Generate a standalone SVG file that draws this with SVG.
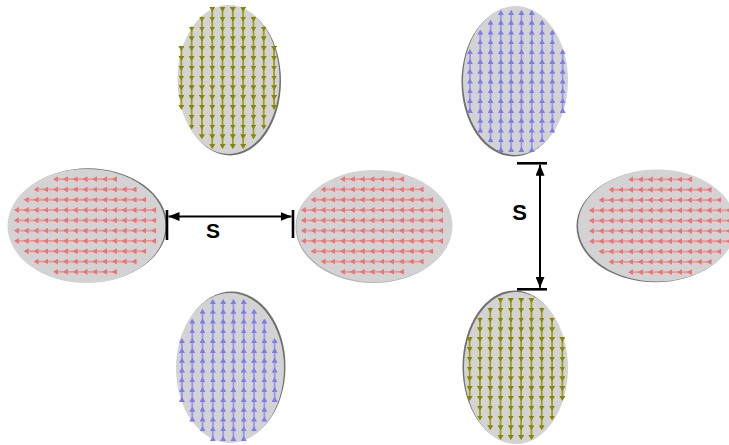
<svg xmlns="http://www.w3.org/2000/svg" xmlns:xlink="http://www.w3.org/1999/xlink" width="729" height="445" viewBox="0 0 729 445">
<style>
.disk{fill:#d3d3d3}
.shadow{fill:#707070}
.shadowlt{fill:#b4b4b4}
.red{fill:none;stroke:#f19495;stroke-width:1.8;marker-mid:url(#mr);marker-end:url(#mr)}
.blue{fill:none;stroke:#9797f0;stroke-width:1.8;marker-mid:url(#mb);marker-end:url(#mb)}
.olive{fill:none;stroke:#9e9e22;stroke-width:1.8;marker-mid:url(#mo);marker-end:url(#mo)}
.dim{stroke:#000;stroke-width:2;fill:none;marker-start:url(#ma);marker-end:url(#ma)}
.tick{stroke:#000;stroke-width:2.6}
.lbl{font-family:"Liberation Sans",Arial,sans-serif;font-weight:bold;fill:#000;text-anchor:middle}
</style>
<defs>
<marker id="mr" viewBox="0 0 5 6" refX="2.5" refY="3" markerWidth="5" markerHeight="6" markerUnits="userSpaceOnUse" orient="auto"><path d="M0,0L5,3L0,6z" fill="#ec7375"/></marker>
<marker id="mb" viewBox="0 0 5 6" refX="2.5" refY="3" markerWidth="5" markerHeight="6" markerUnits="userSpaceOnUse" orient="auto"><path d="M0,0L5,3L0,6z" fill="#7c7ceb"/></marker>
<marker id="mo" viewBox="0 0 5 6" refX="2.5" refY="3" markerWidth="5" markerHeight="6" markerUnits="userSpaceOnUse" orient="auto"><path d="M0,0L5,3L0,6z" fill="#888800"/></marker>
<marker id="ma" viewBox="0 0 11 9" refX="11" refY="4.5" markerWidth="11" markerHeight="9" markerUnits="userSpaceOnUse" orient="auto-start-reverse"><path d="M0,0L11,4.5L0,9z" fill="#000"/></marker>
<g id="redSet">
<path class="red" d="M31.9,-46.35H29.4h-9.8h-9.8h-9.8h-9.8h-9.8h-9.8"/>
<path class="red" d="M51.5,-36.05H49h-9.8h-9.8h-9.8h-9.8h-9.8h-9.8h-9.8h-9.8h-9.8h-9.8"/>
<path class="red" d="M61.3,-25.75H58.8h-9.8h-9.8h-9.8h-9.8h-9.8h-9.8h-9.8h-9.8h-9.8h-9.8h-9.8h-9.8"/>
<path class="red" d="M71.1,-15.45H68.6h-9.8h-9.8h-9.8h-9.8h-9.8h-9.8h-9.8h-9.8h-9.8h-9.8h-9.8h-9.8h-9.8h-9.8"/>
<path class="red" d="M71.1,-5.15H68.6h-9.8h-9.8h-9.8h-9.8h-9.8h-9.8h-9.8h-9.8h-9.8h-9.8h-9.8h-9.8h-9.8h-9.8"/>
<path class="red" d="M71.1,5.15H68.6h-9.8h-9.8h-9.8h-9.8h-9.8h-9.8h-9.8h-9.8h-9.8h-9.8h-9.8h-9.8h-9.8h-9.8"/>
<path class="red" d="M71.1,15.45H68.6h-9.8h-9.8h-9.8h-9.8h-9.8h-9.8h-9.8h-9.8h-9.8h-9.8h-9.8h-9.8h-9.8h-9.8"/>
<path class="red" d="M61.3,25.75H58.8h-9.8h-9.8h-9.8h-9.8h-9.8h-9.8h-9.8h-9.8h-9.8h-9.8h-9.8h-9.8"/>
<path class="red" d="M51.5,36.05H49h-9.8h-9.8h-9.8h-9.8h-9.8h-9.8h-9.8h-9.8h-9.8h-9.8"/>
<path class="red" d="M31.9,46.35H29.4h-9.8h-9.8h-9.8h-9.8h-9.8h-9.8"/>
</g>
<g id="blueSet">
<path class="blue" d="M-46.35,31.9V29.4v-9.8v-9.8v-9.8v-9.8v-9.8v-9.8"/>
<path class="blue" d="M-36.05,51.5V49v-9.8v-9.8v-9.8v-9.8v-9.8v-9.8v-9.8v-9.8v-9.8v-9.8"/>
<path class="blue" d="M-25.75,61.3V58.8v-9.8v-9.8v-9.8v-9.8v-9.8v-9.8v-9.8v-9.8v-9.8v-9.8v-9.8v-9.8"/>
<path class="blue" d="M-15.45,71.1V68.6v-9.8v-9.8v-9.8v-9.8v-9.8v-9.8v-9.8v-9.8v-9.8v-9.8v-9.8v-9.8v-9.8v-9.8"/>
<path class="blue" d="M-5.15,71.1V68.6v-9.8v-9.8v-9.8v-9.8v-9.8v-9.8v-9.8v-9.8v-9.8v-9.8v-9.8v-9.8v-9.8v-9.8"/>
<path class="blue" d="M5.15,71.1V68.6v-9.8v-9.8v-9.8v-9.8v-9.8v-9.8v-9.8v-9.8v-9.8v-9.8v-9.8v-9.8v-9.8v-9.8"/>
<path class="blue" d="M15.45,71.1V68.6v-9.8v-9.8v-9.8v-9.8v-9.8v-9.8v-9.8v-9.8v-9.8v-9.8v-9.8v-9.8v-9.8v-9.8"/>
<path class="blue" d="M25.75,61.3V58.8v-9.8v-9.8v-9.8v-9.8v-9.8v-9.8v-9.8v-9.8v-9.8v-9.8v-9.8v-9.8"/>
<path class="blue" d="M36.05,51.5V49v-9.8v-9.8v-9.8v-9.8v-9.8v-9.8v-9.8v-9.8v-9.8v-9.8"/>
<path class="blue" d="M46.35,31.9V29.4v-9.8v-9.8v-9.8v-9.8v-9.8v-9.8"/>
</g>
<g id="oliveSet">
<path class="olive" d="M-46.35,-31.9V-29.4v9.8v9.8v9.8v9.8v9.8v9.8"/>
<path class="olive" d="M-36.05,-51.5V-49v9.8v9.8v9.8v9.8v9.8v9.8v9.8v9.8v9.8v9.8"/>
<path class="olive" d="M-25.75,-61.3V-58.8v9.8v9.8v9.8v9.8v9.8v9.8v9.8v9.8v9.8v9.8v9.8v9.8"/>
<path class="olive" d="M-15.45,-71.1V-68.6v9.8v9.8v9.8v9.8v9.8v9.8v9.8v9.8v9.8v9.8v9.8v9.8v9.8v9.8"/>
<path class="olive" d="M-5.15,-71.1V-68.6v9.8v9.8v9.8v9.8v9.8v9.8v9.8v9.8v9.8v9.8v9.8v9.8v9.8v9.8"/>
<path class="olive" d="M5.15,-71.1V-68.6v9.8v9.8v9.8v9.8v9.8v9.8v9.8v9.8v9.8v9.8v9.8v9.8v9.8v9.8"/>
<path class="olive" d="M15.45,-71.1V-68.6v9.8v9.8v9.8v9.8v9.8v9.8v9.8v9.8v9.8v9.8v9.8v9.8v9.8v9.8"/>
<path class="olive" d="M25.75,-61.3V-58.8v9.8v9.8v9.8v9.8v9.8v9.8v9.8v9.8v9.8v9.8v9.8v9.8"/>
<path class="olive" d="M36.05,-51.5V-49v9.8v9.8v9.8v9.8v9.8v9.8v9.8v9.8v9.8v9.8"/>
<path class="olive" d="M46.35,-31.9V-29.4v9.8v9.8v9.8v9.8v9.8v9.8"/>
</g>
</defs>
<rect width="729" height="445" fill="#fff"/>

<!-- left configuration -->
<g id="left-top-disk">
<ellipse class="shadow" cx="230" cy="81" rx="51" ry="74.5"/>
<ellipse class="disk" cx="228.5" cy="79.5" rx="51" ry="74.5"/>
<use xlink:href="#oliveSet" href="#oliveSet" x="227.7" y="78"/>
</g>
<g id="left-left-disk">
<ellipse class="shadow" cx="88" cy="225.3" rx="79" ry="57"/>
<ellipse class="disk" cx="86.5" cy="226" rx="79" ry="57"/>
<use xlink:href="#redSet" href="#redSet" x="85" y="225.5"/>
</g>
<g id="left-right-disk">
<ellipse class="shadowlt" cx="373.5" cy="227" rx="78" ry="56"/>
<ellipse class="disk" cx="374.5" cy="226" rx="78" ry="56"/>
<use xlink:href="#redSet" href="#redSet" x="372" y="225.5"/>
</g>
<g id="left-bottom-disk">
<ellipse class="shadow" cx="231.5" cy="366.5" rx="54" ry="75"/>
<ellipse class="disk" cx="230" cy="368" rx="54" ry="75"/>
<use xlink:href="#blueSet" href="#blueSet" x="228.3" y="370"/>
</g>

<!-- right configuration -->
<g id="right-top-disk">
<ellipse class="shadow" cx="514" cy="82" rx="52.5" ry="74.5"/>
<ellipse class="disk" cx="515.5" cy="80.5" rx="52.5" ry="74.5"/>
<use xlink:href="#blueSet" href="#blueSet" x="516.3" y="81"/>
</g>
<g id="right-right-disk">
<ellipse class="shadow" cx="655.5" cy="226.3" rx="79" ry="56"/>
<ellipse class="disk" cx="657" cy="225.5" rx="79" ry="56"/>
<use xlink:href="#redSet" href="#redSet" x="660" y="225.8"/>
</g>
<g id="right-bottom-disk">
<ellipse class="shadow" cx="514.5" cy="366.5" rx="52" ry="76"/>
<ellipse class="disk" cx="516" cy="368" rx="52" ry="76"/>
<use xlink:href="#oliveSet" href="#oliveSet" x="516" y="369"/>
</g>

<!-- dimension connectors -->
<g id="connectors">
<line class="tick" x1="167" y1="210" x2="167" y2="240"/>
<line class="tick" x1="293" y1="210" x2="293" y2="238"/>
<line class="dim" x1="168.5" y1="216.5" x2="291.5" y2="216.5"/>
<line class="tick" x1="517" y1="163.3" x2="547" y2="163.3"/>
<line class="tick" x1="517" y1="289.3" x2="547" y2="289.3"/>
<line class="dim" x1="540" y1="164.8" x2="540" y2="287.8"/>
</g>
<g id="labels">
<text class="lbl" x="213" y="238" font-size="21">S</text>
<text class="lbl" x="519.5" y="220" font-size="22">S</text>
</g>
</svg>
